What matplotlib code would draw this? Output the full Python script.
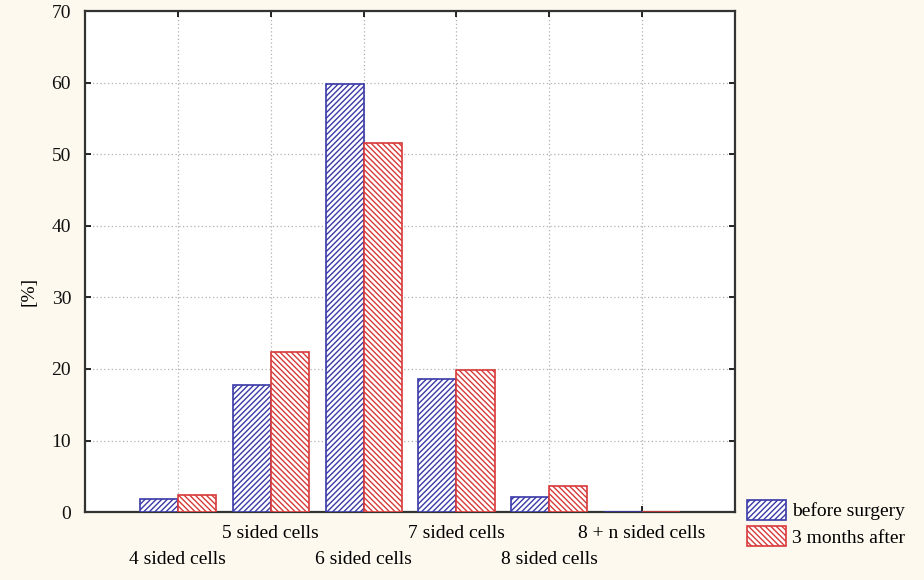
import matplotlib.pyplot as plt
import numpy as np

plt.rcParams['font.family'] = ['Liberation Serif', 'DejaVu Serif']
plt.rcParams['hatch.linewidth'] = 1.0

categories = ['4 sided cells', '5 sided cells', '6 sided cells', '7 sided cells',
              '8 sided cells', '8 + n sided cells']
before_surgery = [1.8, 17.7, 59.8, 18.6, 2.1, 0.0]
months_after = [2.4, 22.4, 51.6, 19.8, 3.6, 0.0]

fig = plt.figure(figsize=(9.24, 5.8), dpi=100, facecolor='#fdf9ee')
ax = fig.add_axes([0.092, 0.117, 0.7035, 0.864])
ax.set_facecolor('white')

x = np.arange(1, len(categories) + 1)
w = 0.41
b1 = ax.bar(x - w / 2, before_surgery, w, color='white', edgecolor='#3a3aa8',
            hatch='//////', linewidth=1.2, label='before surgery', zorder=3)
b2 = ax.bar(x + w / 2, months_after, w, color='white', edgecolor='#d83a3a',
            hatch='\\\\\\\\\\\\', linewidth=1.2, label='3 months after', zorder=3)

ax.set_xlim(0, 7)
ax.set_ylim(0, 70)
ax.set_yticks(range(0, 71, 10))
ax.set_xticks(x)
ax.set_xticklabels([])
ax.tick_params(direction='in', length=4, width=1.2, top=True, right=True,
               labelsize=14, pad=10)
for lab in ax.get_yticklabels():
    lab.set_color('#111111')
ax.grid(True, linestyle=(0, (1, 2)), color='#b0b0b0', linewidth=0.9, zorder=0)
for s in ax.spines.values():
    s.set_linewidth(1.6)
    s.set_color('#333333')

# staggered category labels
for i, c in enumerate(categories):
    yoff = -1.85 if i % 2 == 1 else -5.45
    ax.text(x[i], yoff, c, ha='center', va='top', fontsize=14, clip_on=False)

ax.set_ylabel('[%]', fontsize=14)
ax.yaxis.set_label_coords(-0.073, 0.44)

fig.legend(handles=[b1, b2], loc='upper left', bbox_to_anchor=(0.8, 0.152),
           frameon=False, fontsize=14, handlelength=2.0, handleheight=1.2,
           handletextpad=0.3, labelspacing=0.3, borderaxespad=0)

fig.savefig('out.png', dpi=100, facecolor=fig.get_facecolor())
